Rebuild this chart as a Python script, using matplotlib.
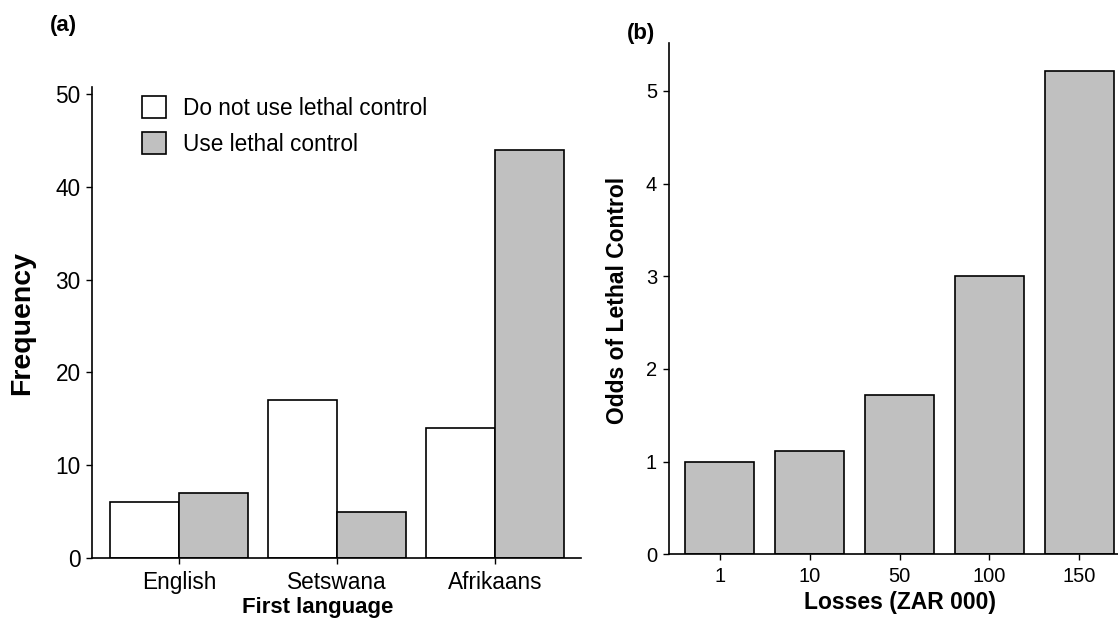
import matplotlib
matplotlib.use("Agg")
import matplotlib.pyplot as plt
from matplotlib.patches import Patch
import numpy as np

plt.rcParams['font.family'] = ['Liberation Sans', 'DejaVu Sans']

# panel (a) data
languages = ["English", "Setswana", "Afrikaans"]
no_lethal = [6, 17, 14]
use_lethal = [7, 5, 44]

# panel (b) data
losses = ["1", "10", "50", "100", "150"]
odds = [1.0, 1.11, 1.72, 3.0, 5.21]

W, H = 1118, 618
fig = plt.figure(figsize=(W / 100, H / 100), dpi=100)

def px_axes(left, right, top, bottom):
    return fig.add_axes([left / W, 1 - bottom / H, (right - left) / W, (bottom - top) / H])

gray = "#c0c0c0"

# ---- panel (a)
ax1 = px_axes(92.3, 581, 86.7, 558)
x = np.arange(len(languages))
bw = 0.437
ax1.bar(x - bw / 2, no_lethal, bw, color="white", edgecolor="black", linewidth=1.2)
ax1.bar(x + bw / 2, use_lethal, bw, color=gray, edgecolor="black", linewidth=1.2)
ax1.set_xlim(-0.55, 2.545)
ax1.set_ylim(0, 50.8)
ax1.set_yticks([0, 10, 20, 30, 40, 50])
ax1.set_xticks(x)
ax1.set_xticklabels(languages)
ax1.tick_params(axis="both", direction="out", length=4.3, width=1, labelsize=16.3, pad=4)
ax1.tick_params(axis="x", pad=5)

handles = [Patch(facecolor="white", edgecolor="black", linewidth=1.2),
           Patch(facecolor=gray, edgecolor="black", linewidth=1.2)]
fig.legend(handles, ["Do not use lethal control", "Use lethal control"],
           loc="upper left", bbox_to_anchor=(142 / W, 1 - 96.5 / H), frameon=False,
           fontsize=16.3, handlelength=1.08, handleheight=1.08, handletextpad=0.72,
           labelspacing=0.55, borderpad=0, borderaxespad=0)

# ---- panel (b)
ax2 = px_axes(668.5, 1118, 42.7, 554.3)
xb = np.arange(len(losses))
ax2.bar(xb, odds, 0.77, color=gray, edgecolor="black", linewidth=1.2)
ax2.set_xlim(-0.572, 4.43)
ax2.set_ylim(0, 5.52)
ax2.set_yticks([0, 1, 2, 3, 4, 5])
ax2.set_xticks(xb)
ax2.set_xticklabels(losses)
ax2.tick_params(axis="both", direction="out", length=4.3, width=1, labelsize=14.5, pad=4)
ax2.tick_params(axis="x", pad=5)

for ax in (ax1, ax2):
    ax.spines["top"].set_visible(False)
    ax.spines["right"].set_visible(False)
    ax.spines["left"].set_linewidth(1.2)
    ax.spines["bottom"].set_linewidth(1.2)

# labels
fig.text(50 / W, 1 - 25 / H, "(a)", fontsize=16, fontweight="bold", ha="left", va="center")
fig.text(627 / W, 1 - 33 / H, "(b)", fontsize=16, fontweight="bold", ha="left", va="center")
fig.text(22 / W, 1 - 323 / H, "Frequency", fontsize=20.5, fontweight="bold",
         rotation=90, ha="center", va="center")
fig.text(618 / W, 1 - 300 / H, "Odds of Lethal Control", fontsize=16.5, fontweight="bold",
         rotation=90, ha="center", va="center")
fig.text(318 / W, 1 - 608 / H, "First language", fontsize=16, fontweight="bold",
         ha="center", va="center")
fig.text(900 / W, 1 - 603 / H, "Losses (ZAR 000)", fontsize=16.5, fontweight="bold",
         ha="center", va="center")

fig.savefig("out.png", dpi=100)
